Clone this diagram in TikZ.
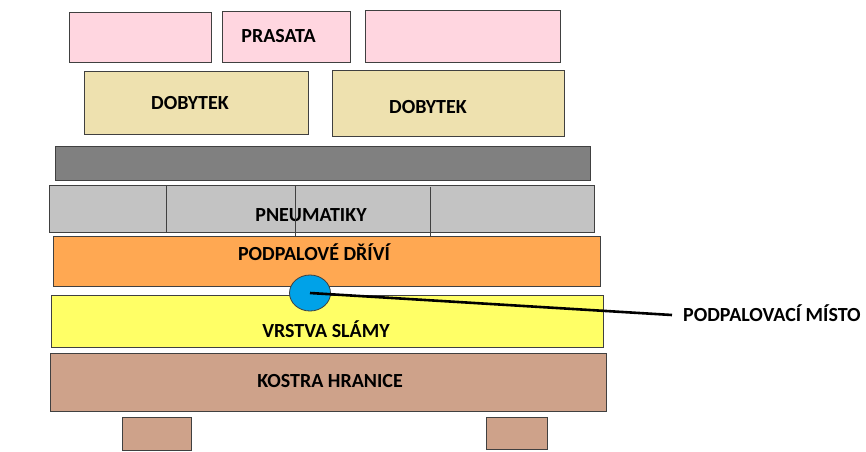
\documentclass[tikz,border=0pt]{standalone}
\usepackage{fontspec}
\setmainfont{Carlito}
\usetikzlibrary{shapes.geometric}
\definecolor{pinkc}{HTML}{FFD6E0}
\definecolor{tanc}{HTML}{EEE1AF}
\definecolor{darkc}{HTML}{808080}
\definecolor{lightc}{HTML}{C3C3C3}
\definecolor{orangec}{HTML}{FFA852}
\definecolor{yellowc}{HTML}{FFFF66}
\definecolor{brownc}{HTML}{CEA28A}
\definecolor{bluec}{HTML}{00A2E8}
\definecolor{edgec}{HTML}{404040}
\tikzset{
  layer/.style={draw=edgec, line width=0.9pt, inner sep=0pt, outer sep=0pt},
  txt/.style={font=\bfseries\fontsize{20}{23}\selectfont, text=black, inner sep=0pt},
  divider/.style={draw=edgec, line width=0.8pt},
}
\begin{document}
\begin{tikzpicture}[x=1pt,y=-1pt]
\useasboundingbox (0,0) rectangle (866,451);
% top pink boxes
\node[layer, fill=pinkc, minimum width=142pt, minimum height=50pt] (p1) at (140,37) {};
\node[layer, fill=pinkc, minimum width=128pt, minimum height=51pt] (p2) at (286,36.5) {};
\node[layer, fill=pinkc, minimum width=195pt, minimum height=52pt] (p3) at (462.5,36) {};
\node[txt] (tp) at (278.5,36) {PRASATA};
% cattle
\node[layer, fill=tanc, minimum width=224pt, minimum height=63pt] (d1) at (196,102.5) {};
\node[layer, fill=tanc, minimum width=232pt, minimum height=66pt] (d2) at (448,103) {};
\node[txt] (td1) at (190,103) {DOBYTEK};
\node[txt] (td2) at (428,107) {DOBYTEK};
% dark bar
\node[layer, fill=darkc, minimum width=535pt, minimum height=34pt] (dk) at (322.5,163) {};
% tyres
\node[layer, fill=lightc, minimum width=545pt, minimum height=47pt] (pn) at (321.5,208.5) {};
\node[txt] (tpn) at (311,215) {PNEUMATIKY};
\coordinate (v1a) at (166,185); \coordinate (v1b) at (166,232);
\coordinate (v2a) at (295,185); \coordinate (v2b) at (295,238);
\coordinate (v3a) at (430,187); \coordinate (v3b) at (430,237);
\draw[divider] (v1a) -- (v1b);
\draw[divider] (v2a) -- (v2b);
\draw[divider] (v3a) -- (v3b);
% kindling
\node[layer, fill=orangec, minimum width=547pt, minimum height=50pt] (or) at (326.5,261) {};
\node[txt] (tor) at (314,252) {PODPALOVÉ DŘÍVÍ};
% straw
\node[layer, fill=yellowc, minimum width=552pt, minimum height=52pt] (ye) at (327,321) {};
\node[txt] (tye) at (326,329) {VRSTVA SLÁMY};
% frame
\node[layer, fill=brownc, minimum width=556pt, minimum height=58pt] (br) at (328,382) {};
\node[txt] (tbr) at (330,381) {KOSTRA HRANICE};
% feet
\node[layer, fill=brownc, minimum width=69pt, minimum height=33pt] (f1) at (156.5,433.5) {};
\node[layer, fill=brownc, minimum width=61pt, minimum height=32pt] (f2) at (516.5,433) {};
% ignition point
\node[ellipse, draw=edgec, line width=0.8pt, fill=bluec, minimum width=41pt, minimum height=36pt, inner sep=0pt] (ig) at (310,293) {};
\coordinate (tip) at (672,315);
\draw[line width=2.6pt, black] (ig.center) -- (tip);
\node[txt, anchor=west] (tig) at (683,313) {PODPALOVACÍ MÍSTO};
\end{tikzpicture}
\end{document}
